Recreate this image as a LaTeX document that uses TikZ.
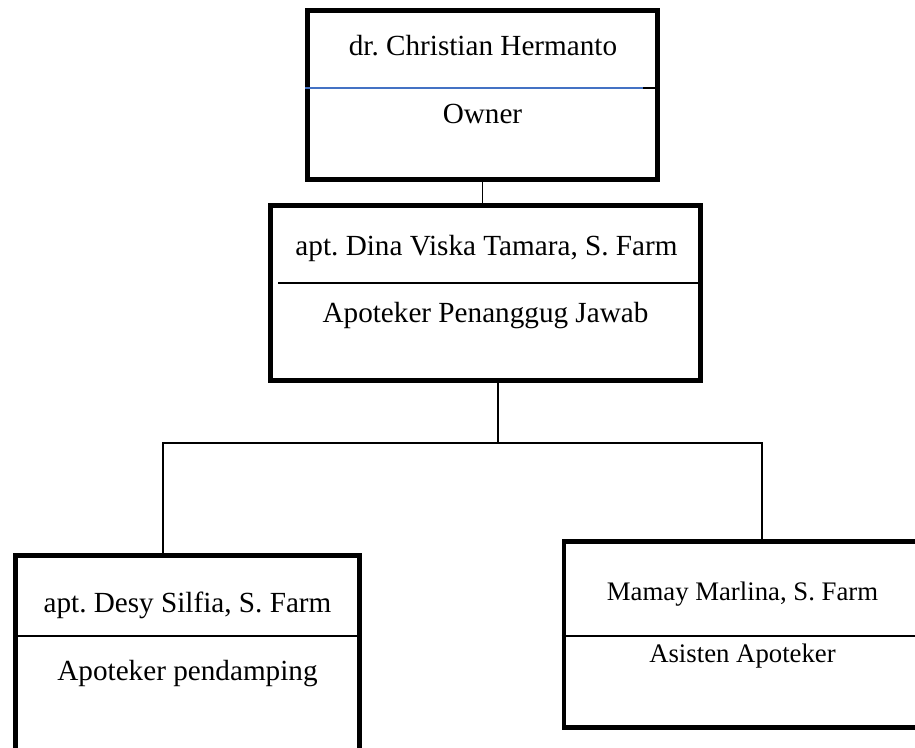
\documentclass[tikz,border=0pt]{standalone}
\usepackage{fontspec}
\setmainfont{Liberation Serif}
\definecolor{lineblue}{RGB}{68,114,196}
\newcommand\pxu{0.01445cm}

\begin{document}
\frenchspacing
\begin{tikzpicture}[x=\pxu,y=-\pxu,
    post/.style={rectangle,draw,line width=2pt},
    label/.style={anchor=base,inner sep=0pt,font=\fontsize{12}{14}\selectfont},
    small/.style={anchor=base,inner sep=0pt,font=\fontsize{11}{13}\selectfont},
    divider/.style={line width=.6pt},
    link/.style={line width=.8pt}]
    \useasboundingbox (0,0) rectangle (915,747);
    \clip (0,0) rectangle (915,747);
    % boxes
    \node[post,minimum width=350*\pxu,minimum height=169*\pxu] (owner) at (482.5,95) {};
    \node[post,minimum width=430*\pxu,minimum height=175*\pxu] (apj) at (485.5,293) {};
    \node[post,minimum width=344*\pxu,minimum height=215*\pxu] (apd) at (187.5,663) {};
    \node[post,minimum width=376*\pxu,minimum height=186*\pxu] (aa) at (752,634.5) {};
    % texts
    \node[label] (ownername) at (483,55) {dr. Christian Hermanto};
    \node[label] (ownerrole) at (482.5,123) {Owner};
    \node[label] (apjname) at (486.5,255) {apt. Dina Viska Tamara, S. Farm};
    \node[label] (apjrole) at (485.5,322) {Apoteker Penanggug Jawab};
    \node[label] (apdname) at (187.5,612) {apt. Desy Silfia, S. Farm};
    \node[label] (apdrole) at (187.5,680) {Apoteker pendamping};
    \node[small] (aaname) at (742.5,600) {Mamay Marlina, S. Farm};
    \node[small] (aarole) at (742.5,662) {Asisten Apoteker};
    % dividers
    \draw[divider,lineblue,line width=.8pt] (owner.west |- 0,88) -- (643,88);
    \draw[divider] (643,88) -- (owner.east |- 0,88);
    \draw[divider] (278,283) -- (apj.east |- 0,283);
    \draw[divider] (apd.west |- 0,636) -- (apd.east |- 0,636);
    \draw[divider] (aa.west |- 0,636) -- (aa.east |- 0,636);
    % connectors
    \coordinate (hub) at (498,443);
    \coordinate (hubl) at (163,443);
    \coordinate (hubr) at (762,443);
    \draw[link] (owner.south) -- (owner.south |- apj.north);
    \draw[link] (apj.south -| hub) -- (hub);
    \draw[link] (hubl |- apd.north) -- (hubl) -- (hubr) -- (hubr |- aa.north);
\end{tikzpicture}
\end{document}
